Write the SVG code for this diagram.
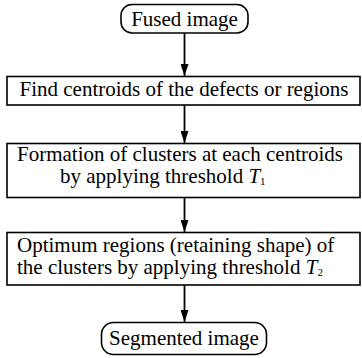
<svg xmlns="http://www.w3.org/2000/svg" width="362" height="358" viewBox="0 0 362 358">
  <style>
    .shape { fill: #fff; stroke: #000; stroke-width: 1.6; }
    .label { font-family: "Liberation Serif", "Times New Roman", serif; font-size: 21px; fill: #000; }
    .mid { text-anchor: middle; }
    .edge { stroke: #000; stroke-width: 1.8; fill: none; marker-end: url(#arrow); }
  </style>
  <defs>
    <!-- filled arrowhead, tip at the end of the line -->
    <marker id="arrow" markerWidth="12" markerHeight="8" refX="12" refY="4" orient="auto" markerUnits="userSpaceOnUse" viewBox="0 0 12 8">
      <path d="M0,0 L12,4 L0,8 Z" fill="#000"/>
    </marker>
  </defs>
  <rect width="362" height="358" fill="#fff"/>

  <g id="connectors">
    <line class="edge" x1="184.5" y1="33" x2="184.5" y2="76"/>
    <line class="edge" x1="184.5" y1="105" x2="184.5" y2="143"/>
    <line class="edge" x1="184.5" y1="198" x2="184.5" y2="232"/>
    <line class="edge" x1="184.5" y1="285" x2="184.5" y2="322"/>
  </g>

  <g id="fused-image">
    <rect class="shape" x="121" y="4.5" width="127" height="28.5" rx="11"/>
    <text class="label mid" x="184.5" y="26">Fused image</text>
  </g>

  <g id="find-centroids">
    <rect class="shape" x="7" y="76.5" width="353" height="28.5"/>
    <text class="label mid" x="184" y="96">Find centroids of the defects or regions</text>
  </g>

  <g id="form-clusters">
    <rect class="shape" x="7" y="143.5" width="353" height="54"/>
    <text class="label" x="17" y="161">Formation of clusters at each centroids</text>
    <text class="label" x="60" y="183">by applying threshold <tspan font-style="italic">T</tspan><tspan font-size="11" dy="2">1</tspan></text>
  </g>

  <g id="optimum-regions">
    <rect class="shape" x="7" y="232.5" width="353" height="52.5"/>
    <text class="label" x="17" y="252">Optimum regions (retaining shape) of</text>
    <text class="label" x="17" y="274">the clusters by applying threshold <tspan font-style="italic">T</tspan><tspan font-size="11" dy="2">2</tspan></text>
  </g>

  <g id="segmented-image">
    <rect class="shape" x="101.5" y="322.5" width="165" height="32" rx="12"/>
    <text class="label mid" x="184" y="345">Segmented image</text>
  </g>
</svg>
